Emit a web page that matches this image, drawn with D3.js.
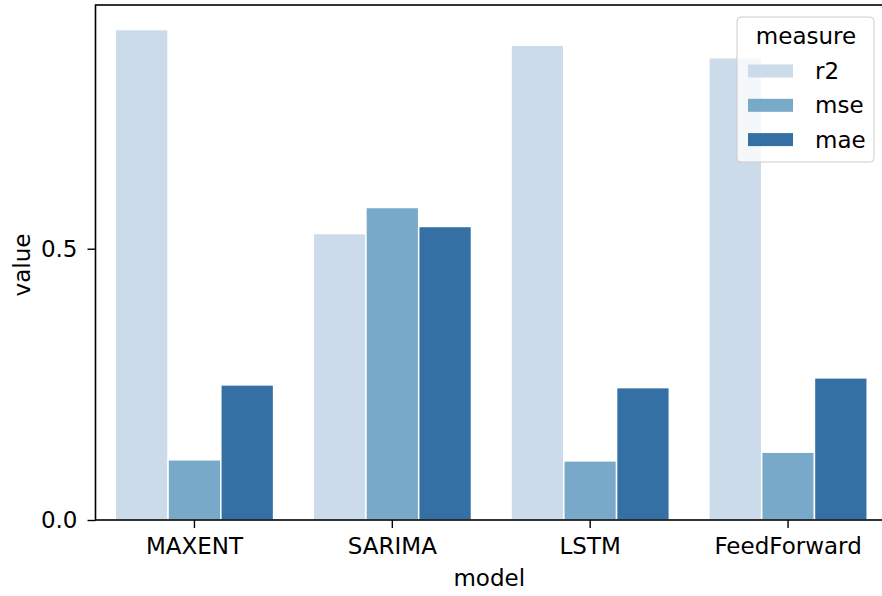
<!DOCTYPE html>
<html>
<head>
<meta charset="utf-8">
<script src="https://cdn.jsdelivr.net/npm/d3@7"></script>
<style>
  body { margin: 0; background: #fff; }
  text { font-family: "DejaVu Sans", sans-serif; fill: #000; }
</style>
</head>
<body>
<svg id="chart" width="882" height="596"></svg>
<script>
// data
var models = ["MAXENT", "SARIMA", "LSTM", "FeedForward"];
var measures = ["r2", "mse", "mae"];
var r2 = [0.904, 0.528, 0.875, 0.852];
var mse = [0.111, 0.576, 0.109, 0.125];
var mae = [0.249, 0.541, 0.244, 0.262];
var yTicks = [0.0, 0.5];
var colors = ["#cbdbea", "#79a9c9", "#3470a3"];

var series = { r2: r2, mse: mse, mae: mae };
var rows = [];
models.forEach(function (m, i) {
  measures.forEach(function (k) {
    rows.push({ model: m, measure: k, value: series[k][i] });
  });
});

var svg = d3.select("#chart");
var plotL = 95.5, plotR = 887, plotT = 5, plotB = 520;
var fs = "23px";

var x = d3.scaleBand().domain(models).range([plotL, plotR]).paddingInner(0).paddingOuter(0);
// seaborn style: groups take 80% of each slot
var inner = d3.scaleBand().domain(measures).range([0, x.bandwidth() * 0.8]);
var yMax = d3.max(r2) * 1.05;
var y = d3.scaleLinear().domain([0, yMax]).range([plotB, plotT]);
var color = d3.scaleOrdinal().domain(measures).range(colors);

// bars
svg.append("g").selectAll("rect")
  .data(rows)
  .enter().append("rect")
  .attr("x", function (d) { return x(d.model) + x.bandwidth() * 0.1 + inner(d.measure); })
  .attr("y", function (d) { return y(d.value); })
  .attr("width", inner.bandwidth())
  .attr("height", function (d) { return plotB - y(d.value); })
  .attr("fill", function (d) { return color(d.measure); })
  .attr("stroke", "#fff")
  .attr("stroke-width", 1.5);

// frame
svg.append("rect")
  .attr("x", plotL).attr("y", plotT)
  .attr("width", plotR - plotL).attr("height", plotB - plotT)
  .attr("fill", "none").attr("stroke", "#000").attr("stroke-width", 1.6);

// axes
var xAxis = svg.append("g")
  .attr("transform", "translate(0," + plotB + ")")
  .call(d3.axisBottom(x).tickSizeOuter(0).tickSize(8).tickPadding(10));
var yAxis = svg.append("g")
  .attr("transform", "translate(" + plotL + ",0)")
  .call(d3.axisLeft(y).tickValues(yTicks).tickFormat(d3.format(".1f")).tickSizeOuter(0).tickSize(8).tickPadding(10));

[xAxis, yAxis].forEach(function (a) {
  a.select(".domain").remove();
  a.selectAll(".tick line").attr("stroke", "#000").attr("stroke-width", 1.4);
  a.selectAll(".tick text").attr("font-size", fs).attr("fill", "#000");
});

// axis titles
svg.append("text")
  .attr("x", (plotL + plotR) / 2 - 2).attr("y", 586)
  .attr("text-anchor", "middle").attr("font-size", fs)
  .text("model");
svg.append("text")
  .attr("transform", "translate(30,265) rotate(-90)")
  .attr("text-anchor", "middle").attr("font-size", fs)
  .text("value");

// legend
var lg = svg.append("g").attr("transform", "translate(737,17)");
lg.append("rect")
  .attr("width", 137).attr("height", 145).attr("rx", 4)
  .attr("fill", "#fff").attr("fill-opacity", 0.8)
  .attr("stroke", "#ccc").attr("stroke-width", 1);
lg.append("text")
  .attr("x", 69).attr("y", 27)
  .attr("text-anchor", "middle").attr("font-size", fs)
  .text("measure");
measures.forEach(function (k, i) {
  var gy = 54 + i * 34.3;
  lg.append("rect")
    .attr("x", 11).attr("y", gy - 6.5)
    .attr("width", 45).attr("height", 13)
    .attr("fill", color(k));
  lg.append("text")
    .attr("x", 78).attr("y", gy + 8)
    .attr("font-size", fs)
    .text(k);
});
</script>
</body>
</html>
